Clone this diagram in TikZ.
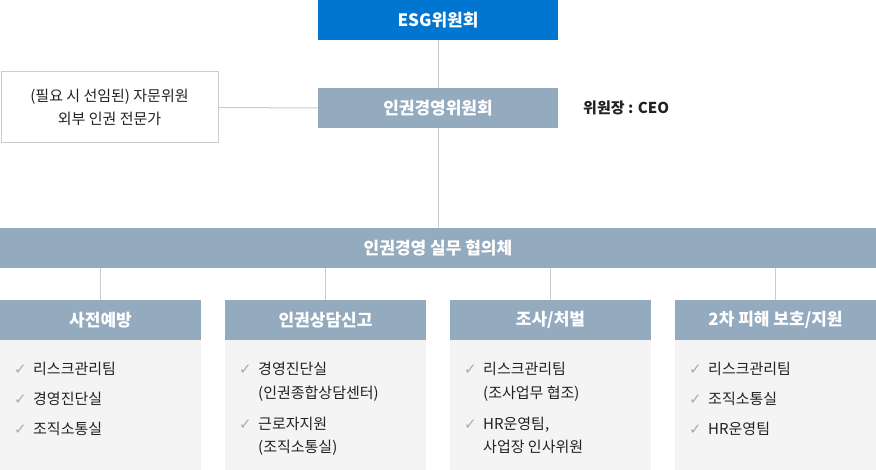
\documentclass[tikz,border=0pt]{standalone}
\usepackage{fontspec}
\setmainfont{Noto Sans CJK KR}
\newfontfamily\checkfont{DejaVu Sans}
\definecolor{esgblue}{HTML}{0176D1}
\definecolor{slate}{HTML}{94AABF}
\definecolor{bodygray}{HTML}{F4F4F4}
\definecolor{linegray}{HTML}{CCCCCC}
\definecolor{checkgray}{HTML}{ABABAB}
\definecolor{txt}{HTML}{222222}
\begin{document}
\begin{tikzpicture}[x=1pt,y=-1pt,
  headbox/.style={inner sep=0pt, text=white, font=\fontsize{17}{20}\selectfont\bfseries, minimum height=40pt},
  bodybox/.style={inner sep=0pt, fill=bodygray, minimum width=201pt, minimum height=130pt},
  conn/.style={draw=linegray, line width=1pt},
  itemtext/.style={inner sep=0pt, anchor=base west, text=txt, font=\fontsize{15}{18}\selectfont},
  chk/.style={inner sep=0pt, anchor=base west, text=checkgray, font=\checkfont\fontsize{15}{18}\selectfont}
]
\useasboundingbox (0,0) rectangle (876,470);

% top boxes
\node[headbox, fill=esgblue, minimum width=240pt] (esg) at (438,20) {ESG위원회};
\node[headbox, fill=slate, minimum width=240pt] (ikw) at (438,108) {인권경영위원회};
\node[inner sep=0pt, draw=linegray, line width=1pt, fill=white, minimum width=217pt, minimum height=71pt,
      align=center, text=txt, font=\fontsize{15}{23}\selectfont] (adv) at (109.5,107.5)
      {(필요 시 선임된) 자문위원\\외부 인권 전문가};
\node[inner sep=0pt, anchor=west, text=txt, font=\fontsize{15}{18}\selectfont\bfseries] (ceo) at (583,108) {위원장 : CEO};

% bar
\node[headbox, fill=slate, minimum width=876pt] (bar) at (438,248) {인권경영 실무 협의체};

% sub headers
\node[headbox, fill=slate, minimum width=201pt] (h1) at (100.5,320) {사전예방};
\node[headbox, fill=slate, minimum width=201pt] (h2) at (325.5,320) {인권상담신고};
\node[headbox, fill=slate, minimum width=201pt] (h3) at (550.5,320) {조사/처벌};
\node[headbox, fill=slate, minimum width=201pt] (h4) at (775.5,320) {2차 피해 보호/지원};

% bodies
\node[bodybox] (b1) at (100.5,405) {};
\node[bodybox] (b2) at (325.5,405) {};
\node[bodybox] (b3) at (550.5,405) {};
\node[bodybox] (b4) at (775.5,405) {};

% connectors
\draw[conn] (esg.south) -- (ikw.north);
\draw[conn] (adv.east) -- (ikw.west);
\draw[conn] (ikw.south) -- (ikw.south |- bar.north);
\foreach \h in {h1,h2,h3,h4}{
  \draw[conn] (\h.north) -- (\h.north |- bar.south);
}

% box 1
\node[chk] (c11) at (14,375) {✓};
\node[itemtext] (t11) at (33,375) {리스크관리팀};
\node[chk] (c12) at (14,405) {✓};
\node[itemtext] (t12) at (33,405) {경영진단실};
\node[chk] (c13) at (14,435) {✓};
\node[itemtext] (t13) at (33,435) {조직소통실};

% box 2
\node[chk] (c21) at (239,375) {✓};
\node[itemtext] (t21) at (258,375) {경영진단실};
\node[itemtext] (t22) at (258,399) {(인권종합상담센터)};
\node[chk] (c23) at (239,429) {✓};
\node[itemtext] (t23) at (258,429) {근로자지원};
\node[itemtext] (t24) at (258,453) {(조직소통실)};

% box 3
\node[chk] (c31) at (464,375) {✓};
\node[itemtext] (t31) at (483,375) {리스크관리팀};
\node[itemtext] (t32) at (483,399) {(조사업무 협조)};
\node[chk] (c33) at (464,429) {✓};
\node[itemtext] (t33) at (483,429) {HR운영팀,};
\node[itemtext] (t34) at (483,453) {사업장 인사위원};

% box 4
\node[chk] (c41) at (689,375) {✓};
\node[itemtext] (t41) at (708,375) {리스크관리팀};
\node[chk] (c42) at (689,405) {✓};
\node[itemtext] (t42) at (708,405) {조직소통실};
\node[chk] (c43) at (689,435) {✓};
\node[itemtext] (t43) at (708,435) {HR운영팀};
\end{tikzpicture}
\end{document}
